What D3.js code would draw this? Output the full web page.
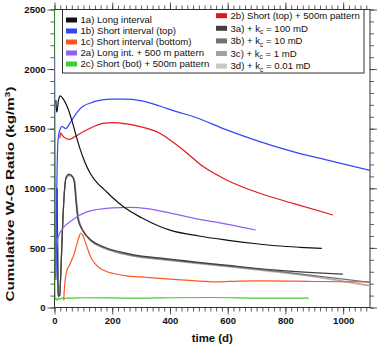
<!DOCTYPE html>
<html>
<head>
<meta charset="utf-8">
<script src="https://cdn.jsdelivr.net/npm/d3@7"></script>
<style>
  body { margin: 0; background: #fff; }
  text { font-family: Arial, "Liberation Sans", sans-serif; }
</style>
</head>
<body>
<div id="chart"></div>
<script>
// series: [time (d), ratio (kg/m3)]
var longInterval = [[5,1740],[7,1640],[9,1650],[14,1740],[20,1776],[30,1750],[45,1680],[60,1570],[75,1440],[90,1320],[105,1220],[125,1120],[150,1040],[170,995],[200,925],[239,845],[300,755],[365,680],[400,649],[500,600],[596,566],[700,535],[769,518],[850,505],[926,496]];
var shortTop = [[5,230],[6,600],[8,1000],[11,1350],[15,1460],[20,1500],[25,1520],[30,1515],[39,1500],[48,1525],[57,1560],[80,1644],[100,1690],[123,1714],[150,1735],[193,1748],[240,1748],[297,1736],[365,1690],[420,1645],[480,1602],[596,1490],[711,1392],[826,1308],[942,1238],[1093,1150]];
var shortBottom = [[32,60],[34,150],[38,250],[44,320],[52,355],[60,400],[67,440],[74,500],[84,585],[91,625],[97,612],[106,555],[115,490],[125,425],[137,378],[150,343],[170,312],[204,285],[250,266],[297,257],[400,238],[480,225],[562,215],[640,222],[734,224],[900,218],[1093,215]];
var longPattern = [[0,2130],[2,1200],[4,250],[6,400],[10,560],[16,610],[22,640],[34,680],[57,725],[80,765],[110,800],[147,822],[200,836],[262,840],[320,830],[377,805],[480,750],[596,700],[697,650]];
var shortTopPattern = [[19,1420],[20,1465],[25,1450],[35,1425],[51,1410],[65,1425],[80,1448],[120,1500],[172,1546],[204,1551],[250,1540],[297,1518],[365,1462],[400,1406],[446,1322],[515,1182],[596,1070],[711,958],[826,874],[965,776]];
var shortBotPattern = [[0,2500],[1,300],[2,70],[5,76],[9,62],[14,78],[20,70],[27,82],[35,75],[45,80],[60,78],[100,82],[200,80],[300,78],[400,82],[550,84],[700,79],[881,78]];
var kc100 = [[9,1000],[10,700],[12,200],[13,95],[18,100],[22,300],[28,680],[34,960],[40,1090],[51,1120],[62,1100],[68,1060],[74,900],[80,760],[88,690],[97,650],[126,566],[170,509],[262,448],[400,406],[596,355],[769,313],[999,280]];
var kc10 = [[9,1000],[10,700],[12,200],[13,95],[18,100],[22,300],[28,680],[34,960],[40,1090],[51,1115],[62,1098],[69,1060],[75,900],[81,760],[89,690],[98,645],[127,560],[171,503],[262,442],[400,400],[596,350],[769,305],[900,268],[1093,210]];
var kc1 = [[9,1000],[10,700],[12,200],[13,95],[18,100],[22,300],[28,680],[34,960],[40,1085],[51,1110],[63,1095],[70,1060],[76,900],[82,760],[90,690],[99,640],[128,555],[172,498],[262,437],[400,396],[596,345],[769,300],[900,260],[1093,185]];
var kc001 = [[9,1000],[10,700],[12,200],[13,95],[18,100],[22,300],[28,680],[34,960],[40,1080],[51,1105],[63,1090],[70,1055],[77,900],[83,760],[91,690],[100,638],[129,552],[173,495],[262,434],[400,393],[596,342],[769,296],[900,255],[1093,178]];

var seriesData = [kc001, kc1, kc10, kc100, shortBotPattern, longPattern, shortBottom, shortTopPattern, shortTop, longInterval];
var seriesColors = ["#c8c8c8", "#a2a2a2", "#727272", "#404040", "#3fcc30", "#9160f2", "#ff5522", "#e01a1a", "#3447f5", "#111111"];

var legendLeft = ["1a) Long interval", "1b) Short interval (top)", "1c) Short interval (bottom)", "2a) Long int. + 500 m pattern", "2c) Short (bot) + 500m pattern"];
var legendLeftColors = ["#111111", "#3447f5", "#ff5522", "#9160f2", "#3fcc30"];
var legendRight = ["2b) Short (top) + 500m pattern", "3a) + k|c| = 100 mD", "3b) + k|c| = 10 mD", "3c) + k|c| = 1 mD", "3d) + k|c| = 0.01 mD"];
var legendRightColors = ["#e01a1a", "#404040", "#727272", "#a2a2a2", "#c8c8c8"];

var xTicks = [0, 200, 400, 600, 800, 1000];
var yTicks = [0, 500, 1000, 1500, 2000, 2500];

var svg = d3.select("#chart").append("svg")
    .attr("width", 379)
    .attr("height", 347);

var margin = {top: 9.5, right: 9, bottom: 39.5, left: 54.5};
var width = 379 - margin.left - margin.right;
var height = 347 - margin.top - margin.bottom;

var g = svg.append("g")
    .attr("transform", "translate(" + margin.left + "," + margin.top + ")");

var x = d3.scaleLinear().domain([0, 1093]).range([0, width]);
var y = d3.scaleLinear().domain([0, 2500]).range([height, 0]);

g.append("clipPath").attr("id", "plot-clip")
    .append("rect").attr("width", width).attr("height", height);

// minor + major ticks on all four sides, pointing outward
function drawAxes() {
    var xMinor = d3.range(0, 1093, 20);
    var yMinor = d3.range(0, 2501, 100);

    var bottom = g.append("g").attr("transform", "translate(0," + height + ")");
    bottom.call(d3.axisBottom(x).tickValues(xMinor).tickSize(4).tickFormat(""));
    bottom.append("g").call(d3.axisBottom(x).tickValues(xTicks).tickSize(7).tickFormat(d3.format("d")));

    var top = g.append("g");
    top.call(d3.axisTop(x).tickValues(xMinor).tickSize(4).tickFormat(""));
    top.append("g").call(d3.axisTop(x).tickValues(xTicks).tickSize(7).tickFormat(""));

    var left = g.append("g");
    left.call(d3.axisLeft(y).tickValues(yMinor).tickSize(4).tickFormat(""));
    left.append("g").call(d3.axisLeft(y).tickValues(yTicks).tickSize(7).tickFormat(d3.format("d")));

    var right = g.append("g").attr("transform", "translate(" + width + ",0)");
    right.call(d3.axisRight(y).tickValues(yMinor).tickSize(4).tickFormat(""));
    right.append("g").call(d3.axisRight(y).tickValues(yTicks).tickSize(7).tickFormat(""));

    g.selectAll(".domain").remove();
    g.selectAll(".tick line").attr("stroke", "#333").attr("stroke-width", 0.8);
    g.selectAll(".tick text")
        .attr("font-family", "Arial, 'Liberation Sans', sans-serif")
        .attr("font-size", 9.5)
        .attr("font-weight", "bold")
        .attr("fill", "#111");
    left.selectAll(".tick text").attr("x", -9).attr("dy", "0.34em");
    bottom.selectAll(".tick text").attr("y", 10);

    g.append("rect")
        .attr("width", width)
        .attr("height", height)
        .attr("fill", "none")
        .attr("stroke", "#333")
        .attr("stroke-width", 1);
}
drawAxes();

var line = d3.line()
    .x(function(d) { return x(d[0]); })
    .y(function(d) { return y(d[1]); })
    .curve(d3.curveMonotoneX);

g.append("g")
    .attr("clip-path", "url(#plot-clip)")
    .selectAll("path")
    .data(seriesData)
    .enter().append("path")
    .attr("d", line)
    .attr("fill", "none")
    .attr("stroke", function(d, i) { return seriesColors[i]; })
    .attr("stroke-width", 1.2)
    .attr("stroke-linejoin", "round");

// Legend box (attached to top of plot)
var lg = svg.append("g");
lg.append("rect")
    .attr("x", 62.5)
    .attr("y", margin.top)
    .attr("width", 301.5)
    .attr("height", 63.5)
    .attr("fill", "#fff")
    .attr("stroke", "#333")
    .attr("stroke-width", 1);

function legendColumn(labels, colors, sx, tx, y0, step) {
    var rows = lg.append("g").selectAll("g")
        .data(labels)
        .enter().append("g")
        .attr("transform", function(d, i) { return "translate(0," + (y0 + i * step) + ")"; });

    rows.append("rect")
        .attr("x", sx)
        .attr("y", -2.5)
        .attr("width", 11)
        .attr("height", 5)
        .attr("fill", function(d, i) { return colors[i]; });

    rows.append("text")
        .attr("x", tx)
        .attr("dy", "0.35em")
        .attr("font-size", 9.6)
        .attr("fill", "#111")
        .each(function(d) {
            var t = d3.select(this);
            var parts = d.split("|");
            parts.forEach(function(p, k) {
                var span = t.append("tspan").text(p);
                if (k === 1) span.attr("font-size", 6.5).attr("dy", "2.5");
                if (k === 2) span.attr("dy", "-2.5");
            });
        });
}
legendColumn(legendLeft, legendLeftColors, 66, 80.5, 20, 11);
legendColumn(legendRight, legendRightColors, 216, 230.5, 15.7, 12.6);

// axis titles
svg.append("text")
    .attr("x", margin.left + width / 2)
    .attr("y", 342)
    .attr("text-anchor", "middle")
    .attr("font-size", 11.4)
    .attr("font-weight", "bold")
    .attr("fill", "#111")
    .text("time (d)");

var yTitle = svg.append("text")
    .attr("transform", "translate(14,194) rotate(-90)")
    .attr("text-anchor", "middle")
    .attr("font-size", 11.5)
    .attr("font-weight", "bold")
    .attr("fill", "#111")
    .attr("textLength", 215)
    .attr("lengthAdjust", "spacingAndGlyphs");
yTitle.append("tspan").text("Cumulative W-G Ratio (kg/m");
yTitle.append("tspan").attr("font-size", 7.5).attr("dy", "-4").text("3");
yTitle.append("tspan").attr("dy", "4").text(")");
</script>
</body>
</html>
